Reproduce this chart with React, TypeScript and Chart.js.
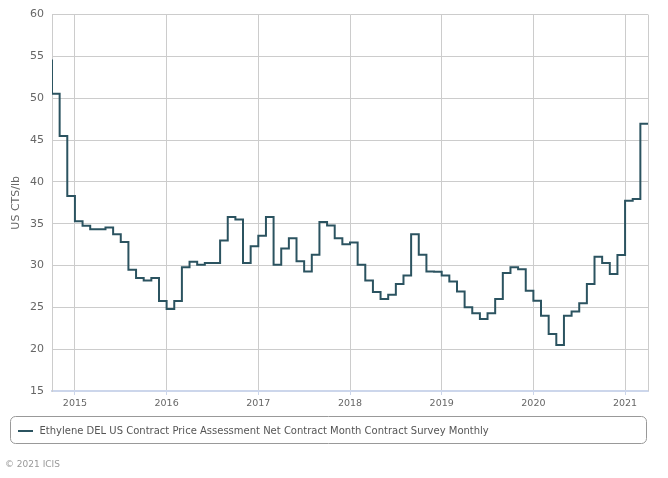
import React, { useEffect, useRef } from 'react';
import { Chart, registerables } from 'chart.js';

Chart.register(...registerables);

// Month labels (YYYY-MM) of the monthly contract assessments
const MONTHS: string[] = [
  '2014-09', '2014-10', '2014-11', '2014-12',
  '2015-01', '2015-02', '2015-03', '2015-04', '2015-05', '2015-06', '2015-07', '2015-08', '2015-09', '2015-10', '2015-11', '2015-12',
  '2016-01', '2016-02', '2016-03', '2016-04', '2016-05', '2016-06', '2016-07', '2016-08', '2016-09', '2016-10', '2016-11', '2016-12',
  '2017-01', '2017-02', '2017-03', '2017-04', '2017-05', '2017-06', '2017-07', '2017-08', '2017-09', '2017-10', '2017-11', '2017-12',
  '2018-01', '2018-02', '2018-03', '2018-04', '2018-05', '2018-06', '2018-07', '2018-08', '2018-09', '2018-10', '2018-11', '2018-12',
  '2019-01', '2019-02', '2019-03', '2019-04', '2019-05', '2019-06', '2019-07', '2019-08', '2019-09', '2019-10', '2019-11', '2019-12',
  '2020-01', '2020-02', '2020-03', '2020-04', '2020-05', '2020-06', '2020-07', '2020-08', '2020-09', '2020-10', '2020-11', '2020-12',
  '2021-01', '2021-02', '2021-03',
];

// US CTS/lb
const PRICES: number[] = [
  54.5, 50.55, 45.5, 38.3,
  35.3, 34.75, 34.35, 34.35, 34.55, 33.75, 32.8, 29.5, 28.5, 28.2, 28.5, 25.75,
  24.8, 25.75, 29.8, 30.45, 30.1, 30.3, 30.3, 33.0, 35.8, 35.5, 30.3, 32.3,
  33.55, 35.8, 30.1, 32.05, 33.25, 30.5, 29.3, 31.3, 35.2, 34.8, 33.25, 32.55,
  32.75, 30.1, 28.2, 26.85, 26.0, 26.5, 27.8, 28.8, 33.75, 31.3, 29.3, 29.25,
  28.8, 28.1, 26.9, 25.0, 24.3, 23.6, 24.3, 26.0, 29.1, 29.8, 29.55, 27.0,
  25.8, 24.0, 21.8, 20.5, 24.0, 24.5, 25.5, 27.8, 31.05, 30.3, 29.0, 31.25,
  37.75, 37.95, 46.95,
];

const YEAR_TICKS: string[] = ['2015', '2016', '2017', '2018', '2019', '2020', '2021'];
const X_START = '2014-10';
const X_END = '2021-04';

const SERIES_LABEL = 'Ethylene DEL US Contract Price Assessment Net Contract Month Contract Survey Monthly';
const Y_TITLE = 'US CTS/lb';
const CREDIT = '\u00A9 2021 ICIS';

const FONT = '"DejaVu Sans", sans-serif';
const LINE_COLOR = '#2b5360';

const monthIndex = (s: string): number => {
  const [y, m] = s.split('-').map(Number);
  return (y - 2015) * 12 + (m - 1);
};

const boxLegend = {
  id: 'boxLegend',
  afterDraw(chart: any) {
    const ctx = chart.ctx;
    const area = chart.chartArea;
    ctx.save();
    // right border of plot area
    ctx.strokeStyle = '#cccccc';
    ctx.lineWidth = 1;
    ctx.beginPath();
    ctx.moveTo(Math.round(area.right) + 0.5, area.top);
    ctx.lineTo(Math.round(area.right) + 0.5, area.bottom);
    ctx.stroke();

    // legend box
    const x0 = 10.5, y0 = 416.5, x1 = 646.5, y1 = 443.5, r = 5;
    ctx.strokeStyle = '#999999';
    ctx.lineWidth = 1;
    ctx.beginPath();
    ctx.moveTo(x0 + r, y0);
    ctx.lineTo(x1 - r, y0);
    ctx.arcTo(x1, y0, x1, y0 + r, r);
    ctx.lineTo(x1, y1 - r);
    ctx.arcTo(x1, y1, x1 - r, y1, r);
    ctx.lineTo(x0 + r, y1);
    ctx.arcTo(x0, y1, x0, y1 - r, r);
    ctx.lineTo(x0, y0 + r);
    ctx.arcTo(x0, y0, x0 + r, y0, r);
    ctx.closePath();
    ctx.stroke();

    const ds = chart.data.datasets[0];
    ctx.strokeStyle = ds.borderColor;
    ctx.lineWidth = 2;
    ctx.beginPath();
    ctx.moveTo(18, 431);
    ctx.lineTo(33, 431);
    ctx.stroke();

    ctx.fillStyle = '#555555';
    ctx.font = `10px ${FONT}`;
    ctx.textBaseline = 'middle';
    ctx.textAlign = 'left';
    ctx.fillText(ds.label, 39.5, 431);

    ctx.fillStyle = '#999999';
    ctx.font = `9px ${FONT}`;
    ctx.fillText(CREDIT, 5, 464.5);
    ctx.restore();
  },
};

export default function App() {
  const ref = useRef<HTMLCanvasElement | null>(null);

  useEffect(() => {
    if (!ref.current) return;
    const points = MONTHS.map((m, i) => ({ x: monthIndex(m), y: PRICES[i] }));
    const last = points[points.length - 1];
    points.push({ x: last.x + 1, y: last.y });

    const chart = new Chart(ref.current, {
      type: 'line',
      data: {
        datasets: [
          {
            label: SERIES_LABEL,
            data: points,
            borderColor: LINE_COLOR,
            backgroundColor: LINE_COLOR,
            borderWidth: 2,
            pointRadius: 0,
            stepped: true,
            fill: false,
            clip: 0,
          },
        ],
      },
      options: {
        animation: false,
        responsive: false,
        maintainAspectRatio: false,
        layout: { padding: { left: 0, right: 20, top: 10, bottom: 0 } },
        plugins: {
          legend: { display: false },
          tooltip: { enabled: false },
        },
        scales: {
          x: {
            type: 'linear',
            min: monthIndex(X_START),
            max: monthIndex(X_END),
            afterBuildTicks: (scale: any) => {
              scale.ticks = YEAR_TICKS.map((y) => ({ value: monthIndex(`${y}-01`) }));
            },
            afterFit: (scale: any) => {
              scale.height = 87;
            },
            ticks: {
              autoSkip: false,
              maxRotation: 0,
              padding: 3,
              color: '#666666',
              font: { family: FONT, size: 9.5 },
              callback: (v: any) => String(2015 + Math.round(Number(v) / 12)),
            },
            grid: {
              color: '#cccccc',
              lineWidth: 1,
              drawTicks: true,
              tickLength: 4,
              tickColor: '#ccd6eb',
            },
            border: { display: true, color: '#ccd6eb', width: 2 },
          },
          y: {
            min: 15,
            max: 60,
            afterFit: (scale: any) => {
              scale.width = 52;
            },
            ticks: {
              stepSize: 5,
              padding: 8,
              color: '#666666',
              font: { family: FONT, size: 11 },
            },
            grid: { color: '#cccccc', lineWidth: 1, drawTicks: false },
            border: { display: true, color: '#cccccc', width: 1 },
            title: {
              display: true,
              text: Y_TITLE,
              color: '#666666',
              font: { family: FONT, size: 11 },
              padding: { top: 10, bottom: 0 },
            },
          },
        },
      },
      plugins: [boxLegend],
    });
    return () => chart.destroy();
  }, []);

  return (
    <div style={{ position: 'fixed', left: 0, top: 0, width: 668, height: 478, background: '#ffffff' }}>
      <canvas ref={ref} width={668} height={478} style={{ width: 668, height: 478, display: 'block' }} />
    </div>
  );
}
